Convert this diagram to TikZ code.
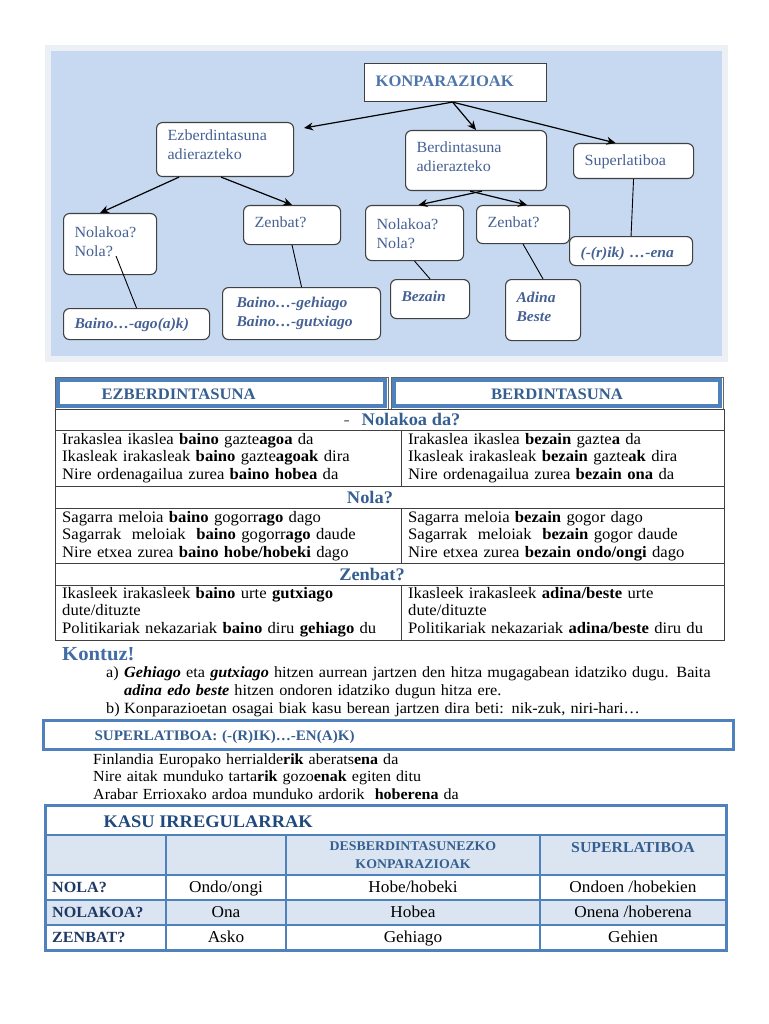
\documentclass[tikz,border=0pt]{standalone}
\usepackage{fontspec}
\setmainfont{Liberation Serif}[FakeStretch=1.04]
\usetikzlibrary{arrows.meta}

\definecolor{fondo}{RGB}{198,217,241}
\definecolor{marco}{RGB}{236,239,243}
\definecolor{cajatxt}{RGB}{70,98,148}
\definecolor{konptxt}{RGB}{79,118,170}
\definecolor{titulo}{RGB}{54,95,145}
\definecolor{kontuz}{RGB}{66,108,165}
\definecolor{azul}{RGB}{79,129,189}
\definecolor{azulclaro}{RGB}{219,229,241}
\definecolor{oscuro}{RGB}{31,73,125}
\definecolor{etiqueta}{RGB}{31,56,100}

\tikzset{
    caja/.style={draw=black!75, line width=1.1pt, fill=white, rounded corners=6pt,
        anchor=north west, inner xsep=11pt, inner ysep=0pt, align=left,
        text=cajatxt, font=\fontsize{15.5}{18.5}\selectfont},
    cursiva/.style={font=\bfseries\itshape\fontsize{15}{18.5}\selectfont},
    flecha/.style={line width=1.2pt, -{Stealth[length=9pt,width=8pt]}},
    linea/.style={line width=0.9pt},
    fila/.style={anchor=north west, inner sep=0pt, text width=335pt, align=left,
        text height=10pt, font=\fontsize{16}{17.5}\selectfont},
    cabecera/.style={text=titulo, font=\bfseries\fontsize{16}{18}\selectfont},
    apartado/.style={text=titulo, font=\bfseries\fontsize{17.7}{19}\selectfont},
    celda/.style={anchor=base, font=\fontsize{16.6}{18}\selectfont},
    etq/.style={anchor=base west, inner sep=0pt, text=etiqueta, font=\bfseries\fontsize{15.5}{17}\selectfont},
}

\begin{document}
\begin{tikzpicture}[x=1pt,y=-1pt]
    \useasboundingbox (0,0) rectangle (768,1024);

    % esquema de arriba
    \fill[marco] (45,45) rectangle (728,362);
    \fill[fondo] (51,51) rectangle (722,356);

    \node[caja, sharp corners, text width=160, text height=23, text depth=15,
        text=konptxt, font=\bfseries\fontsize{16}{18}\selectfont] (konp) at (364,63) {KONPARAZIOAK};
    \node[caja, text width=115, text height=18, text depth=36] (ezb) at (156,122) {Ezberdintasuna\\adierazteko};
    \node[caja, text width=119, text height=22, text depth=38] (ber) at (405,130) {Berdintasuna\\adierazteko};
    \node[caja, text width=98, text height=22, text depth=13] (sup) at (573,143) {Superlatiboa};
    \node[caja, text width=71, text height=24, text depth=37] (nol1) at (63,213) {Nolakoa?\\Nola?};
    \node[caja, text width=75, text height=22, text depth=17] (zen1) at (243,205) {Zenbat?};
    \node[caja, text width=76, text height=24, text depth=31] (nol2) at (365,205) {Nolakoa?\\Nola?};
    \node[caja, text width=71, text height=22, text depth=16] (zen2) at (476,205) {Zenbat?};
    \node[caja, cursiva, text width=101, text height=21, text depth=8] (rik) at (569,236) {(-(r)ik) …-ena};
    \node[caja, cursiva, text width=124, text height=20, text depth=11] (ago) at (63,308) {Baino…-ago(a)k)};
    \node[caja, cursiva, inner xsep=14pt, text width=130, text height=20, text depth=32] (geh) at (222,287) {Baino…-gehiago\\Baino…-gutxiago};
    \node[caja, cursiva, text width=57, text height=22, text depth=17] (bez) at (390,279) {Bezain};
    \node[caja, cursiva, text width=53, text height=23, text depth=38] (adi) at (505,279) {Adina\\Beste};

    \draw[flecha] ([xshift=-3pt]konp.south) -- ([xshift=10pt,yshift=-6pt]ezb.north east);
    \draw[flecha] ([xshift=-3pt]konp.south) -- (ber.north);
    \draw[flecha] ([xshift=-3pt]konp.south) -- ([xshift=-18pt]sup.north);
    \draw[flecha] ([xshift=-46pt]ezb.south) -- ([xshift=-10pt]nol1.north);
    \draw[flecha] ([xshift=-4pt]ezb.south) -- (zen1.north);
    \draw[flecha] ([xshift=6pt]ber.south) -- ([xshift=4pt]nol2.north);
    \draw[flecha] ([xshift=-6pt]ber.south) -- ([xshift=4pt]zen2.north);

    \draw[linea] (sup.south) -- (rik.north);
    \draw[linea] ([xshift=6pt,yshift=19pt]nol1.south) -- (ago.north);
    \draw[linea] (zen1.south) -- (geh.north);
    \draw[linea] (nol2.south) -- (bez.north);
    \draw[linea] (zen2.south) -- (adi.north);

    % tabla de konparazioak
    \draw[black!60, line width=0.8pt] (55,377) rectangle (388,409);
    \draw[azul, line width=3.5pt] (58,380) rectangle (385,406);
    \draw[black!60, line width=0.8pt] (391,377) rectangle (723,409);
    \draw[azul, line width=3.5pt] (394,380) rectangle (720,406);
    \draw[black!75, line width=0.8pt] (55,409) rectangle (724,640);
    \foreach \y in {430,486,508,563,585}
        \draw[black!75, line width=0.8pt] (55,\y) -- (724,\y);
    \foreach \a/\b in {430/486,508/563,585/640}
        \draw[black!75, line width=0.8pt] (401,\a) -- (401,\b);

    \node[cabecera, anchor=base west] (ezbH) at (98,399) {EZBERDINTASUNA};
    \node[cabecera, anchor=base] (berH) at (557,399) {BERDINTASUNA};
    \node[apartado, anchor=base] (nolakoaH) at (402,425) {{\mdseries\color{black!60}-}\hspace{12pt}Nolakoa da?};
    \node[apartado, anchor=base] (nolaH) at (370,503) {Nola?};
    \node[apartado, anchor=base] (zenbatH) at (372,580) {Zenbat?};

    \node[fila] (e1) at (62,434) {Irakaslea ikaslea \textbf{baino} gazte\textbf{agoa} da\\
        Ikasleak irakasleak \textbf{baino} gazte\textbf{agoak} dira\\
        Nire ordenagailua zurea \textbf{baino hobea} da};
    \node[fila] (b1) at (408,434) {Irakaslea ikaslea \textbf{bezain} gazte\textbf{a} da\\
        Ikasleak irakasleak \textbf{bezain} gazte\textbf{ak} dira\\
        Nire ordenagailua zurea \textbf{bezain ona} da};
    \node[fila] (e2) at (62,512) {Sagarra meloia \textbf{baino} gogorr\textbf{ago} dago\\
        Sagarrak~ meloiak~ \textbf{baino} gogorr\textbf{ago} daude\\
        Nire etxea zurea \textbf{baino hobe/hobeki} dago};
    \node[fila] (b2) at (408,512) {Sagarra meloia \textbf{bezain} gogor dago\\
        Sagarrak~ meloiak~ \textbf{bezain} gogor daude\\
        Nire etxea zurea \textbf{bezain ondo/ongi} dago};
    \node[fila] (e3) at (62,588) {Ikasleek irakasleek \textbf{baino} urte \textbf{gutxiago}\\
        dute/dituzte\\
        Politikariak nekazariak \textbf{baino} diru \textbf{gehiago} du};
    \node[fila] (b3) at (408,588) {Ikasleek irakasleek \textbf{adina/beste} urte\\
        dute/dituzte\\
        Politikariak nekazariak \textbf{adina/beste} diru du};

    % kontuz
    \node[anchor=base west, inner sep=0pt, text=kontuz, font=\bfseries\fontsize{19.9}{21}\selectfont] (kontuz) at (62,660) {Kontuz!};
    \node[anchor=base west, inner sep=0pt, font=\fontsize{15.6}{18}\selectfont] (ita) at (106,677) {a)};
    \node[fila, text width=620, font=\fontsize{15.6}{18}\selectfont] (txa) at (124,667)
        {\textbf{\textit{Gehiago}} eta \textbf{\textit{gutxiago}} hitzen aurrean jartzen den hitza mugagabean idatziko dugu. Baita\\
        \textbf{\textit{adina edo beste}} hitzen ondoren idatziko dugun hitza ere.};
    \node[anchor=base west, inner sep=0pt, font=\fontsize{15.6}{18}\selectfont] (itb) at (106,713) {b)};
    \node[fila, text width=620, font=\fontsize{15.6}{18}\selectfont] (txb) at (124,703)
        {Konparazioetan osagai biak kasu berean jartzen dira beti: nik-zuk, niri-hari…};

    % superlatiboa
    \node[draw=azul, line width=3pt, anchor=north west, inner xsep=51pt, inner ysep=0pt,
        text width=588, text height=20, text depth=9, text=titulo,
        font=\bfseries\fontsize{14.5}{17}\selectfont] (supbox) at (42,719) {SUPERLATIBOA: (-(R)IK)…-EN(A)K)};
    \node[fila, text width=620, font=\fontsize{15.4}{17.5}\selectfont] (adib) at (93,754)
        {Finlandia Europako herrialde\textbf{rik} aberats\textbf{ena} da\\
        Nire aitak munduko tarta\textbf{rik} gozo\textbf{enak} egiten ditu\\
        Arabar Errioxako ardoa munduko ardorik~ \textbf{hoberena} da};

    % kasu irregularrak
    \fill[azulclaro] (45,835) rectangle (726,875);
    \fill[azulclaro] (45,900) rectangle (726,925);
    \foreach \y in {835,875,900,925}
        \draw[azul, line width=2.5pt] (45,\y) -- (726,\y);
    \foreach \x in {166,286,540}
        \draw[azul, line width=2.5pt] (\x,835) -- (\x,950);
    \draw[azul, line width=3pt] (45,805) rectangle (726,950);

    \node[anchor=base west, text=oscuro, font=\bfseries\fontsize{17.7}{19}\selectfont] (kasu) at (100,827) {KASU IRREGULARRAK};
    \node[anchor=base, text=titulo, font=\bfseries\fontsize{13.3}{18}\selectfont] (desb) at (413,850) {DESBERDINTASUNEZKO};
    \node[anchor=base, text=titulo, font=\bfseries\fontsize{13.3}{18}\selectfont] (konpk) at (413,868) {KONPARAZIOAK};
    \node[anchor=base, text=titulo, font=\bfseries\fontsize{15.2}{18}\selectfont] (superk) at (633,852) {SUPERLATIBOA};

    \node[etq] (nolaK) at (52,892) {NOLA?};
    \node[etq] (nolakoaK) at (52,917) {NOLAKOA?};
    \node[etq] (zenbatK) at (52,942) {ZENBAT?};
    \node[celda] (c11) at (226,892) {Ondo/ongi};
    \node[celda] (c12) at (413,892) {Hobe/hobeki};
    \node[celda] (c13) at (633,892) {Ondoen /hobekien};
    \node[celda] (c21) at (226,917) {Ona};
    \node[celda] (c22) at (413,917) {Hobea};
    \node[celda] (c23) at (633,917) {Onena /hoberena};
    \node[celda] (c31) at (226,942) {Asko};
    \node[celda] (c32) at (413,942) {Gehiago};
    \node[celda] (c33) at (633,942) {Gehien};
\end{tikzpicture}
\end{document}
